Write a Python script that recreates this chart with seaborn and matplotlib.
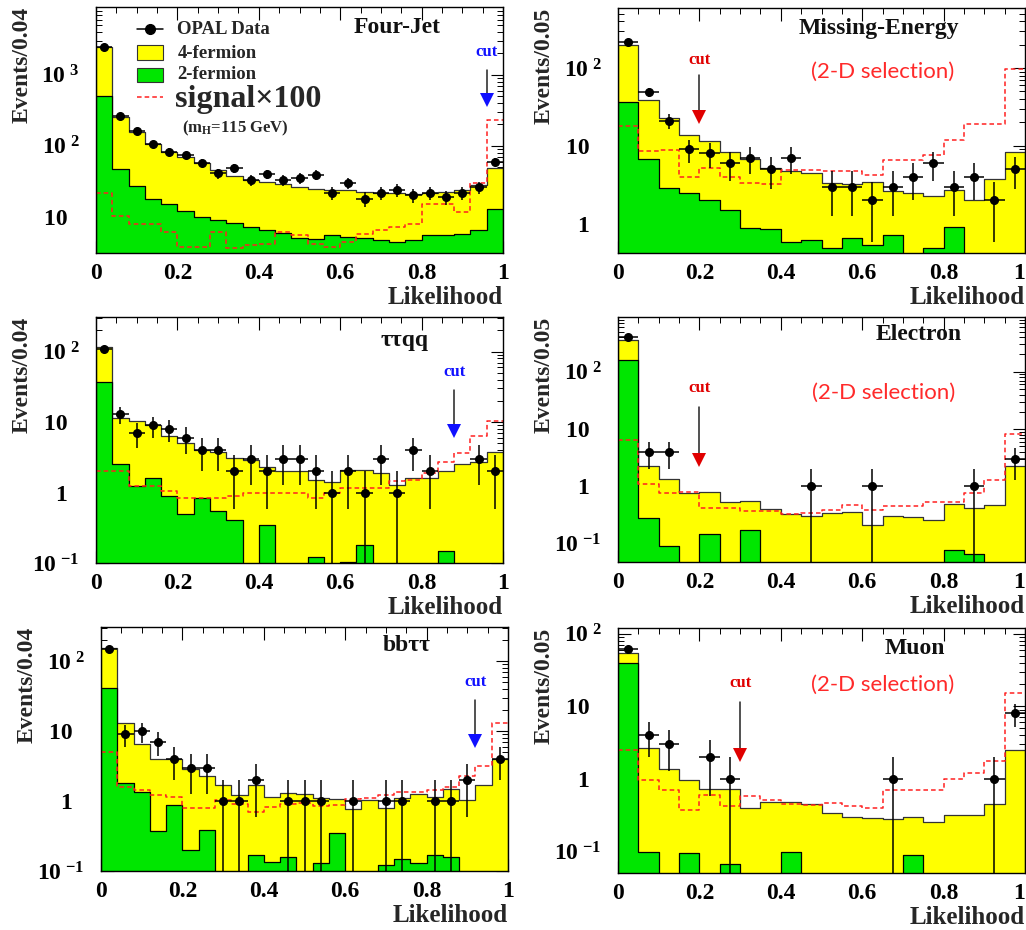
import numpy as np
import pandas as pd
import matplotlib
matplotlib.use("Agg")
import matplotlib.pyplot as plt
import seaborn as sns
from matplotlib.ticker import FixedLocator, FixedFormatter, MultipleLocator, LogLocator, NullFormatter
from matplotlib.patches import Rectangle
from matplotlib.lines import Line2D
import matplotlib.transforms as mtransforms

# ---------------- data ----------------
# Four-Jet (bin width 0.04)
fj_total = [2450, 252, 158, 106, 83, 70, 58, 45, 38, 33, 31, 29, 26, 25, 24, 24, 22.5, 22, 21.5, 21, 22, 22.5, 24, 28, 49]
fj_twof = [510, 47, 27, 17.8, 15.4, 12, 10, 9, 8.2, 7.2, 6.5, 6, 5.1, 4.9, 5.5, 5.2, 5.1, 4.7, 4.5, 4.8, 5.5, 5.5, 5.8, 6.6, 13]
fj_signal = [22, 10.2, 7.9, 7.9, 6.1, 3.8, 3.8, 6.1, 3.6, 4.0, 4.2, 6.1, 5.5, 4.2, 3.8, 4.4, 5.8, 6.5, 7.2, 8.0, 15.4, 15.4, 11.8, 30, 232]
fj_data = [2450, 263, 164, 106, 83, 74, 58, 41, 48, 33, 40, 33, 35, 39, 22, 30, 18, 22, 24, 20, 22, 19, 22, 26, 60]

# Missing-Energy (bin width 0.05)
me_total = [200, 39, 22.7, 13.8, 11.4, 8.3, 6.7, 5.25, 4.7, 4.5, 3.3, 3.2, 3.4, 2.6, 2.5, 2.3, 2.7, 2.04, 3.8, 8.3]
me_twof = [37, 6.7, 2.85, 2.5, 2.04, 1.5, 0.88, 0.85, 0.59, 0.62, 0.49, 0.65, 0.54, 0.72, 0, 0.49, 0.9, 0, 0, 0]
me_signal = [18, 8.5, 8.9, 4.0, 5.2, 4.0, 3.3, 3.2, 4.9, 4.9, 4.7, 4.7, 4.2, 6.6, 6.6, 7.7, 12, 19, 19, 98]
me_data = [214, 49, 21, 9, 8, 6, 7, 5, 7, 0, 3, 3, 2, 3, 4, 6, 3, 4, 2, 5]

# tau tau q q (bin width 0.04)
tq_total = [116, 11.4, 10.2, 9.2, 6.3, 5.0, 4.0, 3.8, 3.1, 2.9, 2.3, 2.0, 2.0, 1.5, 1.39, 2.1, 2.1, 1.88, 1.29, 1.6, 1.6, 2.0, 2.55, 2.75, 3.8]
tq_twof = [36.6, 2.55, 1.22, 1.6, 0.9, 0.5, 0.83, 0.54, 0.41, 0, 0.35, 0, 0, 0.12, 0, 0.105, 0.18, 0, 0, 0, 0, 0.15, 0, 0, 0]
tq_signal = [2.05, 2.05, 1.22, 1.22, 1.05, 0.85, 0.85, 0.85, 0.9, 1.0, 1.0, 1.0, 1.0, 0.85, 1.0, 1.15, 1.15, 1.15, 1.45, 1.5, 1.88, 2.75, 3.6, 6.25, 10.2]
tq_data = [109, 13, 7, 9, 8, 6, 4, 4, 2, 3, 2, 3, 3, 2, 1, 2, 1, 3, 1, 4, 2, 0, 0, 3, 2]

# Electron (bin width 0.05)
el_total = [360, 2.3, 1.34, 0.77, 0.8, 0.53, 0.56, 0.41, 0.33, 0.31, 0.34, 0.36, 0.21, 0.30, 0.29, 0.26, 0.5, 0.42, 0.48, 2.3]
el_twof = [162, 0.28, 0.093, 0, 0.15, 0, 0.175, 0, 0, 0, 0, 0, 0, 0, 0, 0, 0.079, 0.066, 0, 0]
el_signal = [6.5, 1.1, 0.77, 0.79, 0.42, 0.42, 0.37, 0.37, 0.33, 0.35, 0.39, 0.48, 0.39, 0.45, 0.45, 0.53, 0.53, 0.77, 1.3, 8.3]
el_data = [410, 4, 4, 0, 0, 0, 0, 0, 0, 1, 0, 0, 1, 0, 0, 0, 0, 1, 0, 3]

# b b tau tau (bin width 0.04)
bt_total = [153, 13.1, 6.6, 4.0, 4.0, 2.83, 2.27, 1.67, 1.2, 1.67, 1.14, 1.32, 1.25, 1.1, 1.08, 0.78, 1.02, 0.8, 1.1, 1.27, 1.14, 1.5, 1.02, 1.67, 4.0]
bt_twof = [41, 1.8, 1.34, 0.37, 0.89, 0.197, 0.38, 0, 0, 0.171, 0.135, 0.158, 0, 0.132, 0.35, 0, 0, 0.123, 0.15, 0.128, 0.171, 0.158, 0, 0, 0]
bt_signal = [5.0, 1.58, 1.42, 1.2, 1.14, 0.79, 0.79, 1.02, 0.92, 0.7, 0.82, 0.92, 0.95, 0.85, 0.87, 1.08, 1.1, 1.2, 1.34, 1.34, 1.42, 1.58, 2.3, 3.2, 13.1]
bt_data = [148, 9, 10, 7, 4, 3, 3, 1, 1, 2, 0, 1, 1, 1, 0, 1, 0, 1, 1, 0, 1, 1, 2, 0, 4]

# Muon (bin width 0.05)
mu_total = [55, 2.65, 1.37, 0.97, 0.73, 0.73, 0.40, 0.475, 0.475, 0.45, 0.335, 0.30, 0.286, 0.28, 0.30, 0.25, 0.32, 0.32, 0.45, 2.5]
mu_twof = [40, 0.096, 0, 0.093, 0, 0.067, 0, 0, 0.096, 0, 0, 0, 0, 0, 0.089, 0, 0, 0, 0, 0]
mu_signal = [2.5, 0.97, 0.7, 0.365, 0.6, 0.415, 0.57, 0.51, 0.45, 0.43, 0.46, 0.415, 0.40, 0.70, 0.70, 0.70, 1.0, 1.2, 1.74, 15]
mu_data = [61, 4, 3, 0, 2, 1, 0, 0, 0, 0, 0, 0, 0, 1, 0, 0, 0, 0, 1, 8]

titles = ["Four-Jet", "Missing-Energy", "\u03c4\u03c4qq", "Electron", "bb\u03c4\u03c4", "Muon"]
bin_widths = [0.04, 0.05, 0.04, 0.05, 0.04, 0.05]
cut_values = [0.96, 0.20, 0.88, 0.20, 0.92, 0.30]
cut_colors = ["#1010ff", "#e00000", "#1010ff", "#e00000", "#1010ff", "#e00000"]
two_d = [False, True, False, True, False, True]
y_limits = [(3.1, 9000), (0.42, 590), (0.1, 310), (0.048, 900), (0.1, 306), (0.05, 120)]
y_decades = [[1, 2, 3], [0, 1, 2], [-1, 0, 1, 2], [-1, 0, 1, 2], [-1, 0, 1, 2], [-1, 0, 1, 2]]
x_tick_values = [0, 0.2, 0.4, 0.6, 0.8, 1]
x_tick_labels = ["0", "0.2", "0.4", "0.6", "0.8", "1"]

totals = [fj_total, me_total, tq_total, el_total, bt_total, mu_total]
twofs = [fj_twof, me_twof, tq_twof, el_twof, bt_twof, mu_twof]
signals = [fj_signal, me_signal, tq_signal, el_signal, bt_signal, mu_signal]
datas = [fj_data, me_data, tq_data, el_data, bt_data, mu_data]

# ---------------- layout / style ----------------
W, H = 1026, 930
axes_px = [  # left, top, right, bottom in pixels
    (96, 7, 503, 253),
    (618, 8, 1025, 253),
    (96, 317, 503, 563),
    (618, 317, 1025, 562),
    (101, 627, 508, 871),
    (618, 628, 1025, 873),
]
title_pos = [(0.74, 0.915), (0.642, 0.918), (0.757, 0.906), (0.738, 0.927), (0.75, 0.926), (0.73, 0.918)]
twod_pos = [None, (0.65, 0.739), None, (0.652, 0.69), None, (0.65, 0.767)]
arrow_geom = [  # (top, tip, text) in axes fraction
    (0.744, 0.593, 0.817),
    (0.727, 0.53, 0.788),
    (0.703, 0.508, 0.776),
    (0.633, 0.388, 0.71),
    (0.70, 0.504, 0.775),
    (0.698, 0.453, 0.775),
]

YELLOW = "#ffff00"
GREEN = "#00e600"
RED = "#ff2020"

sns.set_theme(style="ticks")
plt.rcParams["font.family"] = ["Liberation Serif", "DejaVu Serif"]
plt.rcParams["font.weight"] = "bold"
plt.rcParams["mathtext.fontset"] = "custom"
plt.rcParams["mathtext.rm"] = "Liberation Serif"
plt.rcParams["mathtext.bf"] = "Liberation Serif:bold"
plt.rcParams["mathtext.it"] = "Liberation Serif:italic"
plt.rcParams["axes.linewidth"] = 1.0

fig = plt.figure(figsize=(W / 100, H / 100), dpi=100)


def ylab(k):
    if k == 0:
        return "1\u2002"
    if k == 1:
        return "10\u2002"
    return r"$\mathbf{10}^{\ \mathbf{%d}}$" % k


for i in range(6):
    l, t, r, b = axes_px[i]
    ax = fig.add_axes([l / W, 1 - b / H, (r - l) / W, (b - t) / H])
    bw = bin_widths[i]
    nb = len(totals[i])
    edges = [round(k * bw, 6) for k in range(nb + 1)]
    centers = np.array([(k + 0.5) * bw for k in range(nb)])
    df = pd.DataFrame({"x": centers, "total": totals[i], "twof": twofs[i], "signal": signals[i]})
    ax.set_yscale("log")

    sns.histplot(data=df, x="x", weights="total", bins=edges, element="step", fill=True,
                 color=YELLOW, alpha=1, edgecolor="#333333", linewidth=0.9, ax=ax)
    sns.histplot(data=df, x="x", weights="twof", bins=edges, element="step", fill=True,
                 color=GREEN, alpha=1, edgecolor="black", linewidth=0.9, ax=ax)
    sns.histplot(data=df, x="x", weights="signal", bins=edges, element="step", fill=False,
                 color=RED, linestyle=(0, (3, 2)), linewidth=1.1, ax=ax)

    d = np.array(datas[i], dtype=float)
    m = d > 0
    ax.errorbar(centers[m], d[m], xerr=bw / 2, yerr=np.sqrt(d[m]), fmt="o", color="black",
                ms=5.5, elinewidth=1.1, capsize=0, zorder=5)

    ax.set_xlim(0, 1)
    ax.set_ylim(*y_limits[i])

    # ticks
    ax.xaxis.set_major_locator(FixedLocator(x_tick_values))
    ax.xaxis.set_major_formatter(FixedFormatter(x_tick_labels))
    ax.xaxis.set_minor_locator(MultipleLocator(0.05))
    decs = y_decades[i]
    ax.yaxis.set_major_locator(FixedLocator([10.0 ** k for k in decs]))
    ax.yaxis.set_major_formatter(FixedFormatter([ylab(k) for k in decs]))
    ax.yaxis.set_minor_locator(LogLocator(base=10, subs=np.arange(2, 10)))
    ax.yaxis.set_minor_formatter(NullFormatter())
    ax.tick_params(which="both", direction="in", top=True, right=True, colors="black")
    ax.tick_params(which="major", length=9, width=0.8, labelsize=17)
    ax.tick_params(axis="x", which="major", pad=7)
    ax.tick_params(axis="y", which="major", pad=12)
    ax.tick_params(which="minor", length=4.5, width=0.7)
    for lab in ax.get_xticklabels() + ax.get_yticklabels():
        lab.set_fontweight("bold")
    if i % 2 == 1:
        ax.get_xticklabels()[-1].set_horizontalalignment("right")
    for sp in ax.spines.values():
        sp.set_color("black")

    ax.set_xlabel("Likelihood", fontsize=18, fontweight="bold", loc="right")
    ax.xaxis.set_label_coords(1.0, -0.135)
    ax.set_ylabel("Events/%.2f" % bw, fontsize=17, fontweight="bold", loc="top")
    ax.yaxis.set_label_coords(-0.155, 1.0)

    tx, ty = title_pos[i]
    ax.text(tx, ty, titles[i], transform=ax.transAxes, ha="center", va="center",
            fontsize=17, fontweight="bold", color="#111111")
    if two_d[i]:
        px, py = twod_pos[i]
        ax.text(px, py, "(2-D selection)", transform=ax.transAxes, ha="center", va="center",
                fontsize=16, fontweight="normal", color="#ff2a2a", family=["Lato", "DejaVu Sans"])

    # cut arrow
    trans = mtransforms.blended_transform_factory(ax.transData, ax.transAxes)
    top, tip, txt = arrow_geom[i]
    cx = cut_values[i]
    ax.plot([cx, cx], [top, tip + 0.03], color="#222222", lw=1.1, transform=trans, zorder=6)
    ax.plot([cx], [tip + 0.027], marker="v", ms=10, color=cut_colors[i], transform=trans,
            zorder=7, markeredgewidth=0)
    ax.text(cx, txt, "cut", transform=trans, ha="center", va="center", fontsize=12,
            fontweight="bold", color=cut_colors[i])

    if i == 0:
        # legend
        lx0, lx1, tx0 = 0.10, 0.165, 0.20
        ax.add_line(Line2D([lx0, lx1], [0.91, 0.91], color="black", lw=1.1, transform=ax.transAxes))
        ax.add_line(Line2D([0.1325], [0.91], marker="o", ms=7, color="black", transform=ax.transAxes))
        ax.text(tx0, 0.91, "OPAL Data", transform=ax.transAxes, va="center", fontsize=13.5, fontweight="bold")
        ax.add_patch(Rectangle((lx0, 0.785), lx1 - lx0, 0.061, facecolor=YELLOW, edgecolor="#333333",
                               lw=0.8, transform=ax.transAxes))
        ax.text(tx0, 0.813, "4-fermion", transform=ax.transAxes, va="center", fontsize=13.5, fontweight="bold")
        ax.add_patch(Rectangle((lx0, 0.695), lx1 - lx0, 0.057, facecolor=GREEN, edgecolor="#333333",
                               lw=0.8, transform=ax.transAxes))
        ax.text(tx0, 0.724, "2-fermion", transform=ax.transAxes, va="center", fontsize=13.5, fontweight="bold")
        ax.add_line(Line2D([lx0, lx1], [0.634, 0.634], color=RED, lw=1.1, linestyle=(0, (3, 2)),
                           transform=ax.transAxes))
        ax.text(tx0 - 0.005, 0.625, "signal\u00d7100", transform=ax.transAxes, va="center",
                fontsize=23, fontweight="bold")
        ax.text(0.211, 0.508, r"(m$_\mathregular{H}$=115 GeV)", transform=ax.transAxes, va="center",
                fontsize=12, fontweight="bold")

fig.savefig("out.png", dpi=100)
